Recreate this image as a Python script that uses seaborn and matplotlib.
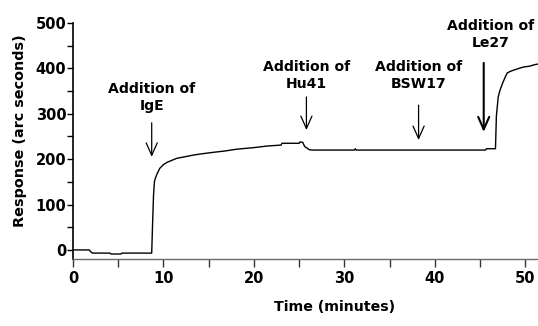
import matplotlib
matplotlib.use("Agg")
import matplotlib.pyplot as plt
from matplotlib.ticker import MultipleLocator
import seaborn as sns
import pandas as pd

# Binding trace: time (minutes) and response (arc seconds)
time_min = [0.0, 1.8, 2.0, 2.2, 4.1, 4.2, 5.3, 5.4, 8.7, 8.8, 8.9, 9.0,
            9.1, 9.3, 9.6, 10.0, 10.4, 11.0, 11.5, 12.3, 13.3, 14.3, 15.5,
            16.8, 18.1, 19.8, 21.5, 23.0, 23.1, 25.0, 25.1, 25.4, 25.6,
            25.9, 26.1, 26.4, 31.1, 31.2, 31.3, 45.6, 45.7, 46.7, 46.8,
            47.0, 47.2, 47.5, 47.8, 48.0, 48.4, 48.7, 49.3, 49.8, 50.5,
            51.0, 51.5]
response = [0, 0, -5, -7, -7, -9, -9, -7, -7, 60, 120, 150,
            158, 168, 180, 188, 193, 198, 202, 205, 209, 212, 215,
            218, 222, 225, 229, 231, 235, 235, 238, 237, 228,
            224, 221, 220, 220, 223, 220, 220, 223, 223, 295,
            337, 352, 368, 382, 390, 394, 396, 400, 403, 405,
            408, 410]

# Injection events: label, arrow x, arrow tail/tip y, text x, text bottom y
event_labels = ["Addition of\nIgE", "Addition of\nHu41",
                "Addition of\nBSW17", "Addition of\nLe27"]
arrow_x = [8.7, 25.8, 38.2, 45.4]
arrow_tail = [280, 337, 319, 412]
arrow_tip = [205, 264, 242, 260]
label_x = [8.7, 25.8, 38.2, 46.2]
label_y = [302, 350, 350, 440]
arrow_lw = [0.9, 0.9, 0.9, 1.5]

sns.set_theme(style="ticks")
plt.rcParams["font.family"] = ["DejaVu Sans"]
plt.rcParams["font.weight"] = "bold"
plt.rcParams["text.color"] = "black"
plt.rcParams["axes.labelcolor"] = "black"

fig = plt.figure(figsize=(5.38, 3.26), dpi=100)
ax = fig.add_axes([73 / 538, 67 / 326, 465 / 538, 236 / 326])

df = pd.DataFrame({"Time": time_min, "Response": response})
sns.lineplot(data=df, x="Time", y="Response", ax=ax, color="black",
             linewidth=1.0, estimator=None, sort=False)

ax.set_xlim(0, 51.4)
ax.set_ylim(-20, 500)
ax.xaxis.set_major_locator(MultipleLocator(10))
ax.xaxis.set_minor_locator(MultipleLocator(5))
ax.yaxis.set_major_locator(MultipleLocator(100))
ax.yaxis.set_minor_locator(MultipleLocator(50))

for side in ("top", "right"):
    ax.spines[side].set_visible(False)
ax.spines["left"].set_color("black")
ax.spines["left"].set_linewidth(1.2)
ax.spines["bottom"].set_color("#6a6a6a")
ax.spines["bottom"].set_linewidth(1.0)

ax.tick_params(axis="y", which="major", direction="out", length=4.3,
               width=1.0, color="black", labelcolor="black", pad=0.5,
               labelsize=10.5)
ax.tick_params(axis="y", which="minor", direction="out", length=4.3,
               width=1.0, color="black")
ax.tick_params(axis="x", which="major", direction="out", length=5.8,
               width=1.0, color="#333333", labelcolor="black", pad=3,
               labelsize=10.5)
ax.tick_params(axis="x", which="minor", direction="out", length=5.5,
               width=1.0, color="#333333")
for lbl in ax.get_xticklabels() + ax.get_yticklabels():
    lbl.set_fontweight("bold")

ax.set_xlabel("Time (minutes)", fontsize=10.2, fontweight="bold",
              color="black", va="center")
ax.set_ylabel("Response (arc seconds)", fontsize=10.4, fontweight="bold",
              color="black", va="center")
ax.xaxis.set_label_coords((335 - 73) / 465, -(307 - 259) / 236)
ax.yaxis.set_label_coords(-(73 - 20) / 465, (259 - 131) / 236)

for lab, ax_x, tail, tip, tx, ty, lw in zip(event_labels, arrow_x, arrow_tail,
                                           arrow_tip, label_x, label_y,
                                           arrow_lw):
    ax.annotate("", xy=(ax_x, tip), xytext=(ax_x, tail),
                arrowprops=dict(arrowstyle="->,head_length=0.9,head_width=0.4",
                                mutation_scale=10, lw=lw, color="black",
                                shrinkA=0, shrinkB=0))
    ax.text(tx, ty, lab, ha="center", va="bottom", fontsize=10.1,
            fontweight="bold", linespacing=1.25, color="black")

fig.savefig("out.png", dpi=100)
